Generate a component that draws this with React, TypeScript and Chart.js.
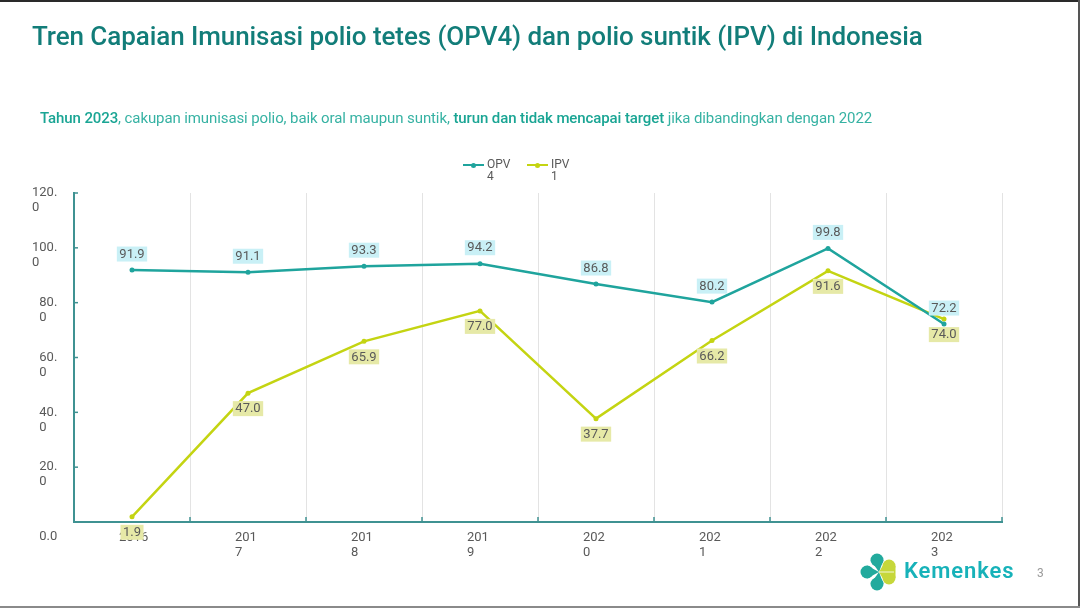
import React, { useEffect, useRef } from "react";
import { Chart, registerables } from "chart.js";

Chart.register(...registerables);

// ---------- data ----------
const years = ["2016", "2017", "2018", "2019", "2020", "2021", "2022", "2023"];
const xTickLabels: (string | string[])[] = [
  "2016",
  ["201", "7"],
  ["201", "8"],
  ["201", "9"],
  ["202", "0"],
  ["202", "1"],
  ["202", "2"],
  ["202", "3"],
];
const opv4 = [91.9, 91.1, 93.3, 94.2, 86.8, 80.2, 99.8, 72.2];
const ipv1 = [1.9, 47.0, 65.9, 77.0, 37.7, 66.2, 91.6, 74.0];
const yTickValues = [0, 20, 40, 60, 80, 100, 120];
const yTickLabels = ["0.0", "20.0", "40.0", "60.0", "80.0", "100.0", "120.0"];
const seriesNames = ["OPV 4", "IPV 1"];

// ---------- styles ----------
const OPV_COLOR = "#1fa49d";
const IPV_COLOR = "#c4d412";
const OPV_LABEL_BG = "#c9f0f6";
const IPV_LABEL_BG = "#e6e9a7";
const AXIS_COLOR = "#3f9292";
const TEXT_GRAY = "#595959";
const FIG = "\u2007";

const dataLabelPlugin = {
  id: "dataLabelPlugin",
  afterDatasetsDraw(chart: any) {
    const ctx = chart.ctx;
    const cfg = [
      { bg: OPV_LABEL_BG, dy: -16 },
      { bg: IPV_LABEL_BG, dy: 15.5 },
    ];
    ctx.save();
    ctx.font = "13px Roboto";
    ctx.textAlign = "center";
    ctx.textBaseline = "middle";
    chart.data.datasets.forEach((ds: any, di: number) => {
      const meta = chart.getDatasetMeta(di);
      meta.data.forEach((pt: any, i: number) => {
        const v = ds.data[i] as number;
        const text = v.toFixed(1);
        const w = ctx.measureText(text).width + 5;
        const h = 15;
        const cy = pt.y + cfg[di].dy;
        ctx.fillStyle = cfg[di].bg;
        ctx.fillRect(pt.x - w / 2, cy - h / 2, w, h);
        ctx.fillStyle = TEXT_GRAY;
        ctx.fillText(text, pt.x, cy + 0.5);
      });
    });
    ctx.restore();
  },
};

const innerTicksPlugin = {
  id: "innerTicksPlugin",
  afterDraw(chart: any) {
    const ctx = chart.ctx;
    const { left, right, bottom } = chart.chartArea;
    const y = chart.scales.y;
    ctx.save();
    ctx.strokeStyle = AXIS_COLOR;
    ctx.lineWidth = 1.5;
    y.ticks.forEach((t: any) => {
      const py = y.getPixelForValue(t.value);
      ctx.beginPath();
      ctx.moveTo(left, py);
      ctx.lineTo(left + 4, py);
      ctx.stroke();
    });
    const n = chart.data.labels.length;
    const cw = (right - left) / n;
    for (let i = 1; i <= n; i++) {
      const px = left + cw * i;
      ctx.beginPath();
      ctx.moveTo(px, bottom);
      ctx.lineTo(px, bottom - 5);
      ctx.stroke();
    }
    ctx.restore();
  },
};

function LegendItem({ color, name, left }: { color: string; name: string; left: number }) {
  const [a, b] = name.split(" ");
  return (
    <div style={{ position: "absolute", left, top: 158, height: 30 }}>
      <div style={{ position: "absolute", left: 0, top: 6, width: 21, height: 2, background: color }} />
      <div
        style={{
          position: "absolute",
          left: 8,
          top: 4.5,
          width: 5,
          height: 5,
          borderRadius: "50%",
          background: color,
        }}
      />
      <div
        style={{
          position: "absolute",
          left: 24,
          top: 0,
          fontFamily: "Roboto",
          fontSize: 12,
          lineHeight: "12px",
          color: TEXT_GRAY,
          whiteSpace: "nowrap",
        }}
      >
        {a}
        <br />
        {b}
      </div>
    </div>
  );
}

function Logo() {
  const teal = "#22aa9d";
  const lime = "#c6d73a";
  return (
    <div style={{ position: "absolute", left: 860, top: 553 }}>
      <svg width="38" height="38" viewBox="0 0 38 38" style={{ position: "absolute", left: 0, top: 0 }}>
        <circle cx="7" cy="19" r="6.5" fill={teal} />
        <polygon points="7,12.5 19,19 7,25.5" fill={teal} />
        <circle cx="17" cy="7" r="6.5" fill={teal} />
        <polygon points="10.5,7 23.5,7 19,19" fill={teal} />
        <circle cx="17" cy="31" r="6.5" fill={teal} />
        <polygon points="10.5,31 23.5,31 19,19" fill={teal} />
        <circle cx="29" cy="13" r="6.5" fill={lime} />
        <circle cx="29" cy="25" r="6.5" fill={lime} />
        <polygon points="22.5,13 19,19 22.5,25 35.5,25 35.5,13" fill={lime} />
        <line x1="19" y1="19" x2="34" y2="19" stroke="#ffffff" strokeWidth="0.8" />
      </svg>
      <div
        style={{
          position: "absolute",
          left: 44,
          top: 5,
          fontFamily: "Roboto",
          fontWeight: 600,
          fontSize: 22,
          letterSpacing: 0.9,
          lineHeight: "26px",
          color: "#17b2b9",
          whiteSpace: "nowrap",
        }}
      >
        Kemenkes
      </div>
    </div>
  );
}

export default function App() {
  const canvasRef = useRef<HTMLCanvasElement | null>(null);

  useEffect(() => {
    if (!canvasRef.current) return;
    const chart = new Chart(canvasRef.current, {
      type: "line",
      data: {
        labels: years,
        datasets: [
          {
            label: seriesNames[0],
            data: opv4,
            borderColor: OPV_COLOR,
            backgroundColor: OPV_COLOR,
            borderWidth: 2.5,
            pointRadius: 2.5,
            pointBorderWidth: 0,
            pointBackgroundColor: OPV_COLOR,
            tension: 0,
          },
          {
            label: seriesNames[1],
            data: ipv1,
            borderColor: IPV_COLOR,
            backgroundColor: IPV_COLOR,
            borderWidth: 2.5,
            pointRadius: 2.5,
            pointBorderWidth: 0,
            pointBackgroundColor: IPV_COLOR,
            tension: 0,
          },
        ],
      },
      options: {
        animation: false,
        responsive: false,
        maintainAspectRatio: false,
        layout: { padding: { left: 32, right: 78, top: 193, bottom: 36 } },
        plugins: {
          legend: { display: false },
          tooltip: { enabled: false },
        },
        scales: {
          x: {
            type: "category",
            offset: true,
            grid: {
              offset: true,
              drawTicks: false,
              lineWidth: 1,
              color: (c: any) => (c.index === 0 || c.index === years.length ? "rgba(0,0,0,0)" : "#e3e3e3"),
            },
            border: { display: true, color: AXIS_COLOR, width: 2 },
            ticks: {
              autoSkip: false,
              maxRotation: 0,
              minRotation: 0,
              align: "start",
              labelOffset: -13,
              padding: 8,
              color: TEXT_GRAY,
              font: { family: "Roboto", size: 13, lineHeight: 1.15 },
              callback: (_v: any, i: number) => xTickLabels[i],
            },
            afterFit: (s: any) => {
              s.height = 50;
            },
          },
          y: {
            min: 0,
            max: 120,
            afterBuildTicks: (s: any) => {
              s.ticks = yTickValues.map((v) => ({ value: v }));
            },
            grid: { drawOnChartArea: false, drawTicks: false },
            border: { display: true, color: AXIS_COLOR, width: 2 },
            ticks: {
              crossAlign: "far",
              padding: 0,
              color: TEXT_GRAY,
              font: { family: "Roboto", size: 13, lineHeight: 1.15 },
              callback: (v: any) => {
                const idx = yTickValues.indexOf(Number(v));
                const lab = yTickLabels[idx];
                if (Number(v) === 0) return ["", "", FIG + lab];
                const pad = lab.length < 5 ? FIG : "";
                const dot = lab.lastIndexOf(".");
                return ["", pad + lab.slice(0, dot + 1), pad + lab.slice(dot + 1)];
              },
            },
            afterFit: (s: any) => {
              s.width = 42;
            },
          },
        },
      },
      plugins: [dataLabelPlugin, innerTicksPlugin],
    } as any);
    return () => chart.destroy();
  }, []);

  return (
    <div
      style={{
        position: "absolute",
        left: 0,
        top: 0,
        width: 1080,
        height: 608,
        background: "#ffffff",
        overflow: "hidden",
      }}
    >
      <canvas
        ref={canvasRef}
        width={1080}
        height={608}
        style={{ position: "absolute", left: 0, top: 0, width: 1080, height: 608 }}
      />
      <div
        style={{
          position: "absolute",
          left: 32,
          top: 21,
          fontFamily: "Roboto",
          fontSize: 26,
          fontWeight: 500,
          lineHeight: "30px",
          color: "#127d79",
          letterSpacing: -0.08,
          whiteSpace: "nowrap",
        }}
      >
        Tren Capaian Imunisasi polio tetes (OPV4) dan polio suntik (IPV) di Indonesia
      </div>
      <div
        style={{
          position: "absolute",
          left: 40,
          top: 109,
          fontFamily: "Roboto",
          fontSize: 15,
          lineHeight: "18px",
          color: "#36b2a3",
          letterSpacing: -0.1,
          whiteSpace: "nowrap",
        }}
      >
        <span style={{ fontWeight: 500, color: "#1aa594" }}>Tahun 2023</span>, cakupan imunisasi polio, baik oral
        maupun suntik, <span style={{ fontWeight: 500, color: "#1aa594" }}>turun dan tidak mencapai target</span>{" "}
        jika dibandingkan dengan 2022
      </div>
      <LegendItem color={OPV_COLOR} name={seriesNames[0]} left={463} />
      <LegendItem color={IPV_COLOR} name={seriesNames[1]} left={527} />
      <Logo />
      <div
        style={{
          position: "absolute",
          left: 1037,
          top: 566,
          fontFamily: "Roboto",
          fontSize: 12,
          lineHeight: "14px",
          color: "#9a9a9a",
        }}
      >
        3
      </div>
      <div style={{ position: "absolute", left: 0, top: 0, width: 1080, height: 2, background: "#2a2a2a" }} />
      <div style={{ position: "absolute", left: 1078, top: 0, width: 2, height: 608, background: "#555555" }} />
      <div style={{ position: "absolute", left: 0, top: 606, width: 1080, height: 2, background: "#8a8a8a" }} />
    </div>
  );
}
